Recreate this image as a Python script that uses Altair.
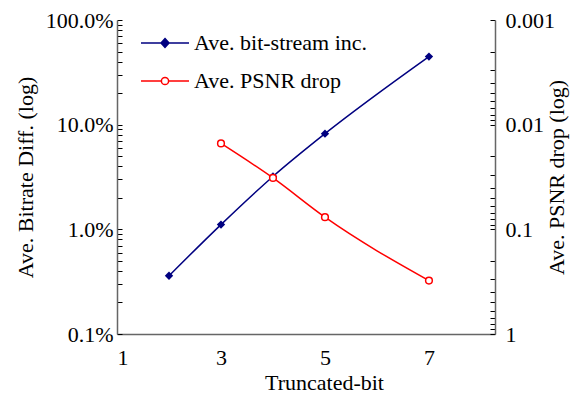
import altair as alt
import pandas as pd

# ---- data ----
x_bitrate = [2, 3, 4, 5, 7]
bitrate_inc = [0.0036, 0.0111, 0.032, 0.082, 0.447]   # fraction (shown as %)
x_psnr = [3, 4, 5, 7]
psnr_drop = [0.0151, 0.0323, 0.0766, 0.309]
series_names = ["Ave. bit-stream inc.", "Ave. PSNR drop"]
series_colors = ["#000080", "#ff0000"]
x_ticks = [1, 3, 5, 7]
x_domain = [1, 8.27]
left_domain = [0.001, 1]
right_domain = [0.001, 1]

FONT = "Liberation Serif"

log_ticks = [round(m * 10 ** e, 6) for e in (-3, -2, -1) for m in range(1, 10)] + [1.0]
is_decade = "abs(log(datum.value)/LN10 - round(log(datum.value)/LN10)) < 0.001"

df_b = pd.DataFrame({"x": x_bitrate, "y": bitrate_inc, "series": series_names[0]})
df_r = pd.DataFrame({"x": x_psnr, "y": psnr_drop, "series": series_names[1]})

path_blue = "M-3,0L3,0M0,-0.55L0.5,0L0,0.55L-0.5,0Z"
path_red = ("M-3,0L-0.45,0M0.45,0L3,0M0.45,0A0.45,0.45,0,1,1,-0.45,0"
            "A0.45,0.45,0,1,1,0.45,0Z")


def make_legend(path, fill, y):
    return alt.Legend(
        title=None, orient="none", legendX=37, legendY=y, padding=0,
        labelFont=FONT, labelFontSize=22, labelColor="black", labelLimit=0,
        symbolSize=256, labelOffset=18, symbolType=path,
        symbolFillColor=fill, symbolStrokeWidth=1.5, symbolOpacity=1,
    )


x_enc = alt.X("x:Q", scale=alt.Scale(domain=x_domain, nice=False, zero=False),
              axis=alt.Axis(values=x_ticks, ticks=False, grid=False, title="Truncated-bit",
                            labelPadding=13, titlePadding=4, titleX=207))

left_axis = alt.Axis(orient="left", values=log_ticks, labelExpr=f"{is_decade} ? format(datum.value, '.1%') : ''",
                     tickSize={"expr": "-5"}, labelPadding=9, grid=False,
                     title="Ave. Bitrate Diff. (log)", titlePadding=8)
right_axis = alt.Axis(orient="right", values=log_ticks, labelExpr=f"{is_decade} ? toString(datum.value) : ''",
                      tickSize={"expr": "-5"}, labelPadding=15, grid=False,
                      title="Ave. PSNR drop (log)", titleAngle=270, titlePadding=14)

base_b = alt.Chart(df_b).encode(
    x=x_enc,
    y=alt.Y("y:Q", scale=alt.Scale(type="log", domain=left_domain, nice=False), axis=left_axis),
    color=alt.Color("series:N", scale=alt.Scale(domain=[series_names[0]], range=[series_colors[0]]),
                    legend=make_legend(path_blue, series_colors[0], 12)),
)
left = alt.layer(
    base_b.mark_line(strokeWidth=1.5, interpolate="monotone"),
    base_b.mark_point(shape="diamond", filled=True, size=70, opacity=1),
)

base_r = alt.Chart(df_r).encode(
    x=x_enc,
    y=alt.Y("y:Q", scale=alt.Scale(type="log", domain=right_domain, nice=False, reverse=True), axis=right_axis),
    color=alt.Color("series:N", scale=alt.Scale(domain=[series_names[1]], range=[series_colors[1]]),
                    legend=make_legend(path_red, "#ffffff", 50)),
)
right = alt.layer(
    base_r.mark_line(strokeWidth=1.5, interpolate="monotone"),
    base_r.mark_point(shape="circle", filled=False, fill="white", fillOpacity=1, size=45, strokeWidth=1.5, opacity=1),
)

chart = alt.layer(left, right).resolve_scale(y="independent", color="independent").properties(
    width=378, height=314,
    autosize=alt.AutoSizeParams(type="none"),
    padding={"left": 109, "top": 12, "right": 75, "bottom": 60},
).configure(font=FONT).configure_view(stroke=None).configure_axis(
    labelFont=FONT, labelFontSize=22, labelColor="black",
    titleFont=FONT, titleFontSize=22, titleFontWeight="normal", titleColor="black",
    domainColor="#666666", domainWidth=1.5, tickColor="black", tickWidth=1,
)

chart.save("out.html", embed_options={"renderer": "svg", "actions": False})
